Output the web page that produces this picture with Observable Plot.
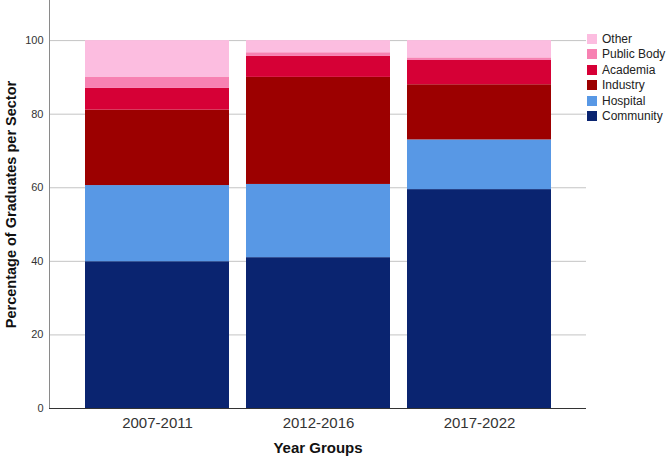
<!DOCTYPE html>
<html><head><meta charset="utf-8">
<script src="https://cdn.jsdelivr.net/npm/d3@7"></script>
<script src="https://cdn.jsdelivr.net/npm/@observablehq/plot@0.6"></script>
<style>
body{margin:0;background:#fff;font-family:"Liberation Sans",Arial,sans-serif;}
#wrap{position:relative;width:667px;height:461px;}
#legend{position:absolute;left:587px;top:31px;font-size:12px;color:#222;}
#legend .it{display:flex;align-items:center;height:15.5px;}
#legend .sw{width:10px;height:10px;margin-right:5px;}
</style></head>
<body><div id="wrap"><div id="legend"></div></div>
<script>
const groups = ["2007-2011", "2012-2016", "2017-2022"];
const sectors = ["Community", "Hospital", "Industry", "Academia", "Public Body", "Other"];
const colors = ["#0a2470", "#5898e5", "#9c0000", "#d60036", "#f781b2", "#fcbde0"];
const community = [39.9, 41.0, 59.5];
const hospital = [20.7, 19.9, 13.5];
const industry = [20.5, 29.1, 15.0];
const academia = [5.9, 5.7, 6.6];
const publicBody = [3.1, 1.0, 0.7];
const other = [9.9, 3.3, 4.7];
const yTicks = [0, 20, 40, 60, 80, 100];

const series = [community, hospital, industry, academia, publicBody, other];
const data = [];
groups.forEach((g, i) => sectors.forEach((s, j) => data.push({group: g, sector: s, value: series[j][i]})));

const chart = Plot.plot({
  width: 667, height: 461,
  marginLeft: 49, marginRight: 81, marginTop: 0, marginBottom: 53,
  style: {fontFamily: '"Liberation Sans", Arial, sans-serif', color: "#333", background: "#fff"},
  x: {domain: groups, paddingInner: 0.106, paddingOuter: 0.217, label: null},
  y: {domain: [0, 110.9], label: null},
  color: {domain: sectors, range: colors},
  marks: [
    Plot.ruleY(yTicks.slice(1), {stroke: "#c4c4c4", strokeWidth: 1}),
    Plot.barY(data, {x: "group", y: "value", fill: "sector", z: "sector", order: sectors}),
    Plot.axisY({ticks: yTicks, tickSize: 0, tickPadding: 6, fontSize: 11, label: null}),
    Plot.axisX({tickSize: 0, tickPadding: 9, fontSize: 15, label: null}),
    Plot.frame({anchor: "left", stroke: "#8a8a8a"}),
    Plot.ruleY([0], {stroke: "#333", strokeWidth: 1}),
    Plot.text(["Year Groups"], {frameAnchor: "bottom", dy: 44, fontSize: 15, fontWeight: "bold", fill: "#111"}),
    Plot.text(["Percentage of Graduates per Sector"], {frameAnchor: "left", textAnchor: "middle", dx: -38, rotate: -90, fontSize: 14.5, fontWeight: "bold", fill: "#111"})
  ]
});
document.getElementById("wrap").prepend(chart);

const leg = document.getElementById("legend");
sectors.slice().reverse().forEach((s) => {
  const c = colors[sectors.indexOf(s)];
  const it = document.createElement("div");
  it.className = "it";
  it.innerHTML = `<span class="sw" style="background:${c}"></span><span>${s}</span>`;
  leg.appendChild(it);
});
</script></body></html>
